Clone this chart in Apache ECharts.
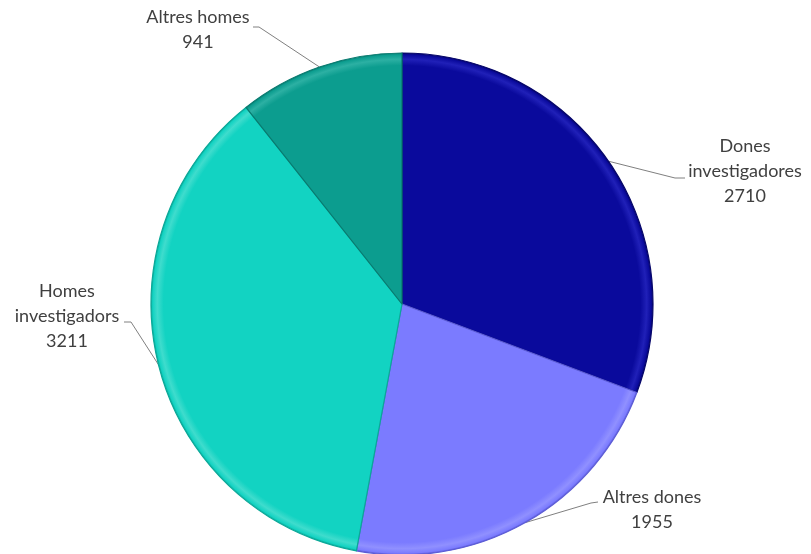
<!DOCTYPE html>
<html>
<head>
<meta charset="utf-8">
<script src="https://cdn.jsdelivr.net/npm/echarts@6/dist/echarts.min.js"></script>
<style>
  html, body { margin: 0; padding: 0; background: #fff; }
  #chart { width: 811px; height: 554px; }
</style>
</head>
<body>
<div id="chart"></div>
<script>
// Research staff by category
const categories = ['Dones\ninvestigadores', 'Altres dones', 'Homes\ninvestigadors', 'Altres homes'];
const values = [2710, 1955, 3211, 941];
const baseColors = ['#0a0a9c', '#7b7bff', '#12d3c2', '#0c9d8f'];
const rimColors = ['#2020b8', '#9090ff', '#3fdccd', '#2cb0a3'];
const edgeColors = ['#06066a', '#5c5cd6', '#0aa898', '#087a6f'];

// Label placement (centre of each label block) and the leader line elbow / end
const labelPos = [[745, 171], [652, 510], [67, 316], [198, 30]];
const elbowPos = [[675, 178], [591, 503], [131, 322], [259, 27]];
const endPos = [[685, 178], [598, 502], [124, 322], [253, 27]];

const cx = 402, cy = 304, radius = 251;

function sliceFill(i) {
  return {
    type: 'radial', x: cx, y: cy, r: radius, global: true,
    colorStops: [
      { offset: 0, color: baseColors[i] },
      { offset: 0.95, color: baseColors[i] },
      { offset: 0.975, color: rimColors[i] },
      { offset: 0.993, color: baseColors[i] },
      { offset: 1, color: edgeColors[i] }
    ]
  };
}

const chart = echarts.init(document.getElementById('chart'), null, { renderer: 'canvas' });
chart.setOption({
  animation: false,
  backgroundColor: '#ffffff',
  series: [{
    type: 'pie',
    center: [cx, cy],
    radius: [0, radius],
    startAngle: 90,
    clockwise: true,
    avoidLabelOverlap: false,
    data: categories.map((name, i) => ({
      name: name,
      value: values[i],
      itemStyle: { color: sliceFill(i), borderColor: edgeColors[i], borderWidth: 1.2 }
    })),
    label: {
      show: true,
      formatter: '{b}\n{c}',
      fontFamily: 'Lato, "Open Sans", sans-serif',
      fontSize: 18,
      lineHeight: 25,
      color: '#404040',
      align: 'center'
    },
    labelLine: {
      show: true,
      length: 20,
      length2: 10,
      lineStyle: { color: '#808080', width: 1 }
    },
    labelLayout: function (params) {
      const i = params.dataIndex;
      const pts = params.labelLinePoints;
      if (pts) {
        pts[1] = elbowPos[i].slice();
        pts[2] = endPos[i].slice();
      }
      return {
        x: labelPos[i][0],
        y: labelPos[i][1],
        align: 'center',
        verticalAlign: 'middle',
        labelLinePoints: pts
      };
    }
  }]
});
</script>
</body>
</html>
